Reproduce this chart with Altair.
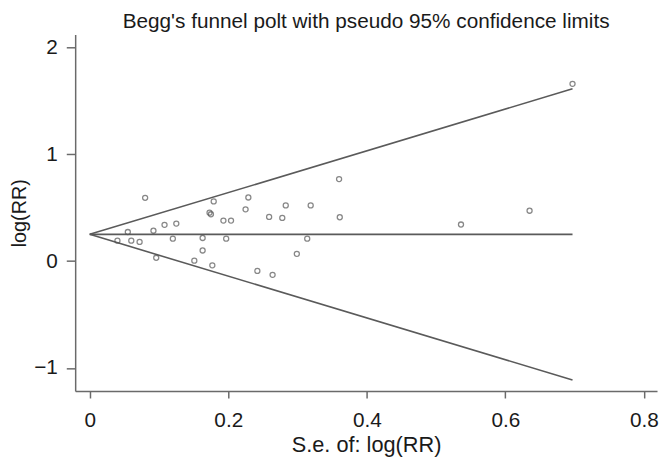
import altair as alt
import pandas as pd

# Study standard errors and log relative risks
se = [0.080, 0.040, 0.055, 0.060, 0.072, 0.092, 0.096, 0.108, 0.120, 0.125,
      0.151, 0.163, 0.163, 0.173, 0.175, 0.179, 0.177, 0.193, 0.197, 0.204,
      0.225, 0.229, 0.242, 0.259, 0.278, 0.283, 0.319, 0.360, 0.361, 0.314,
      0.299, 0.264, 0.697, 0.635, 0.536]
logrr = [0.592, 0.191, 0.272, 0.191, 0.179, 0.284, 0.031, 0.339, 0.210, 0.351,
         0.004, 0.216, 0.099, 0.453, 0.438, 0.558, -0.040, 0.379, 0.210, 0.379,
         0.484, 0.595, -0.092, 0.413, 0.404, 0.521, 0.521, 0.767, 0.410, 0.210,
         0.068, -0.129, 1.658, 0.471, 0.342]

# Funnel (pseudo 95% limits) end points
line_series = ["upper", "upper", "center", "center", "lower", "lower"]
line_se = [0.0, 0.697, 0.0, 0.697, 0.0, 0.697]
line_val = [0.25, 1.612, 0.25, 0.25, 0.25, -1.112]

x_ticks = [0, 0.2, 0.4, 0.6, 0.8]
y_ticks = [-1, 0, 1, 2]

pts = pd.DataFrame({"se": se, "logrr": logrr})
lines = pd.DataFrame({"series": line_series, "se": line_se, "val": line_val})

FONT = "Liberation Sans"

xscale = alt.Scale(domain=[-0.021, 0.819], nice=False, zero=False)
yscale = alt.Scale(domain=[-1.216, 2.12], nice=False, zero=False)

xaxis = alt.Axis(values=x_ticks, format="~g", title="S.e. of: log(RR)",
                 tickSize=7, labelPadding=12, titlePadding=4.5,
                 labelFontSize=21, titleFontSize=22)
yaxis = alt.Axis(values=y_ticks, format="~g", title="log(RR)",
                 tickSize=9, labelPadding=9, titlePadding=4,
                 labelFontSize=21, titleFontSize=20)

line_layer = alt.Chart(lines).mark_line(color="#5a5a5a", strokeWidth=1.6).encode(
    x=alt.X("se:Q", scale=xscale, axis=xaxis),
    y=alt.Y("val:Q", scale=yscale, axis=yaxis),
    detail="series:N",
)

point_layer = alt.Chart(pts).mark_point(
    shape="circle", filled=False, size=26, color="#555555", strokeWidth=1.3
).encode(
    x=alt.X("se:Q", scale=xscale),
    y=alt.Y("logrr:Q", scale=yscale),
)

chart = (
    alt.layer(line_layer, point_layer)
    .properties(
        width=589,
        height=361,
        title=alt.Title("Begg's funnel polt with pseudo 95% confidence limits",
                        font=FONT, fontSize=21, fontWeight="normal",
                        color="#1a1a1a", offset=3),
        autosize=alt.AutoSizeParams(type="none"),
        padding={"left": 68, "top": 24, "right": 2, "bottom": 67},
    )
    .configure_view(stroke=None)
    .configure_axis(
        grid=False,
        domainColor="#6a6a6a", domainWidth=1.5,
        tickColor="#6a6a6a", tickWidth=1.5,
        labelFont=FONT, labelColor="#1a1a1a",
        titleFont=FONT, titleFontWeight="normal",
        titleColor="#1a1a1a",
    )
)

chart.save("out.html", embed_options={"renderer": "svg", "actions": False})
